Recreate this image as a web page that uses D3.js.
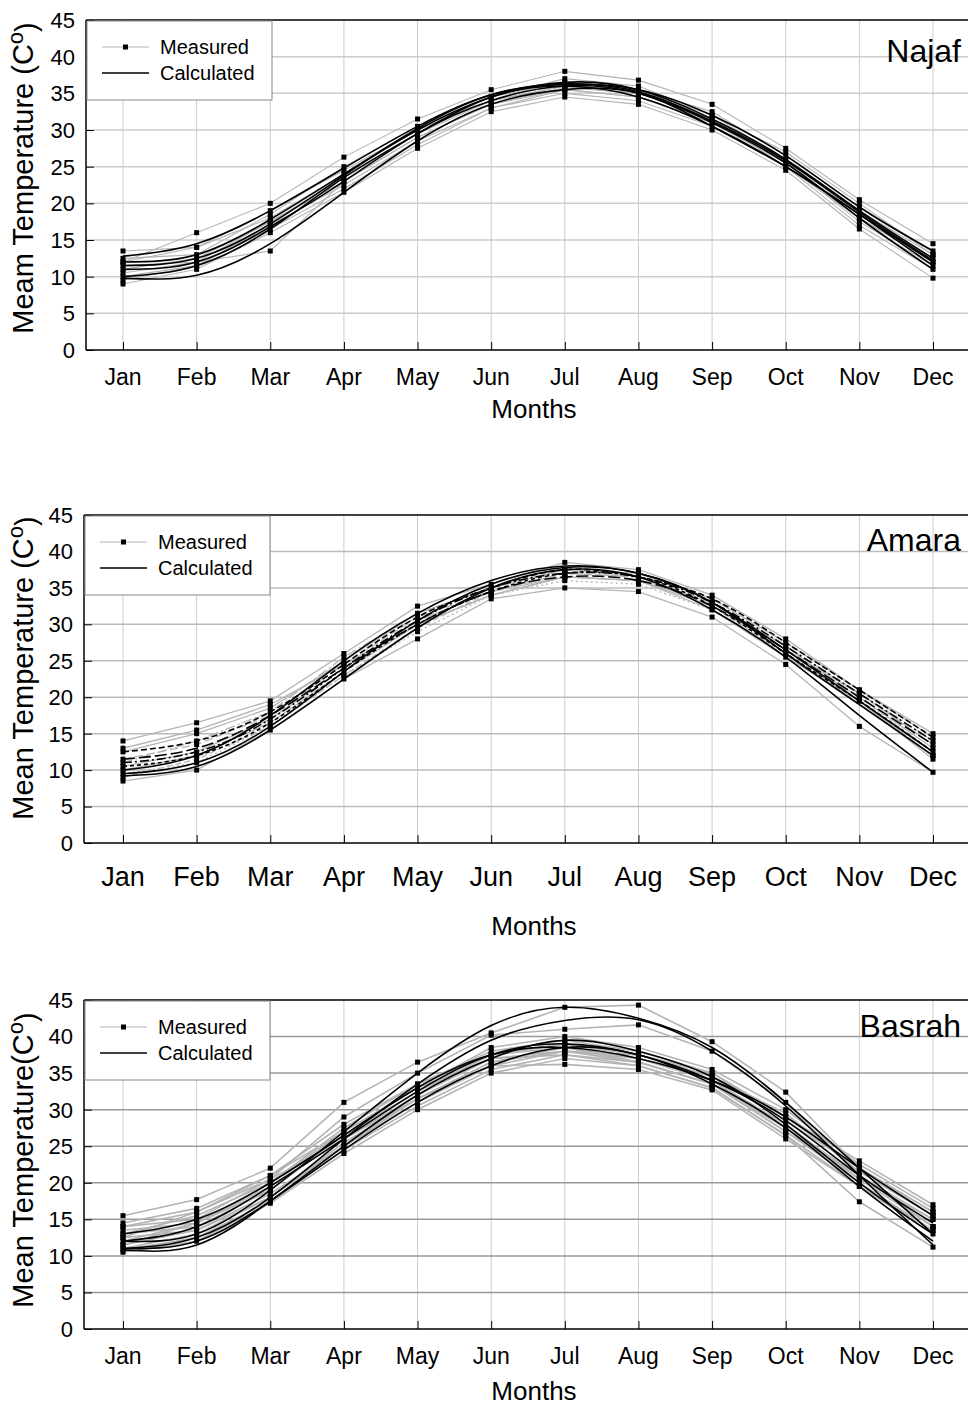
<!DOCTYPE html>
<html>
<head>
<meta charset="utf-8">
<script src="https://cdn.jsdelivr.net/npm/d3@7/dist/d3.min.js"></script>
<style>
  body { margin: 0; background: #fff; }
  svg { display: block; font-family: "Liberation Sans", Arial, sans-serif; }
</style>
</head>
<body>
<div id="chart"></div>
<script>
var months = ["Jan", "Feb", "Mar", "Apr", "May", "Jun", "Jul", "Aug", "Sep", "Oct", "Nov", "Dec"];
var yTicks = [0, 5, 10, 15, 20, 25, 30, 35, 40, 45];

// Najaf
var najafMeasured = [
    [13.5, 14, 18, 24, 30, 34, 36, 35.5, 32, 26, 19, 13],
    [12, 16, 20, 26.3, 31.5, 35.5, 38, 36.8, 33.5, 27.5, 20.5, 14.5],
    [11.5, 12, 13.5, 23, 29, 33.5, 35.5, 34.5, 31, 25.5, 18, 12],
    [10, 11.5, 17, 22.5, 28.5, 33, 35, 34, 30.5, 25, 17, 11],
    [9, 11, 16, 21.5, 27.5, 32.5, 34.5, 33.5, 30, 24.5, 16.5, 9.8],
    [12.5, 13, 18.5, 25, 30.5, 34.5, 36.5, 35.5, 32.5, 26.5, 19.5, 13.5],
    [11, 12.5, 17.5, 23.5, 29.5, 34, 36, 35, 31.5, 26, 18.5, 12.5],
    [9.5, 11.5, 16.5, 22, 28, 33, 35.5, 34.5, 31, 25.5, 17.5, 11.5],
    [12, 14, 19, 24.5, 30, 34.5, 37, 36, 32, 27, 20, 13],
    [10.5, 12, 17.5, 23, 29, 33.5, 35.8, 35, 31.5, 25, 18, 12]
];
var najafCalculated = [
    [9.8, 10.2, 14.5, 21.5, 28.5, 33.5, 35.5, 35, 30.5, 25, 18.5, 11.5],
    [12.8, 14.5, 19, 24.8, 30.5, 34.8, 36.2, 35.5, 32, 26.5, 19.5, 13.5],
    [11, 12, 16.8, 23, 29.5, 34, 36, 35, 31, 25.5, 18, 11],
    [12, 13, 17.8, 24, 30, 34.5, 36.5, 35.5, 31.5, 26, 19, 12.5],
    [10, 11.5, 16.5, 23.5, 29.5, 34.5, 36, 34.5, 30.5, 25, 18.5, 12],
    [11.5, 12.5, 17.2, 23.8, 30.2, 34.8, 36.3, 35.2, 31.2, 25.8, 18.8, 12.2]
];

// Amara
var amaraMeasured = [
    [14, 16.5, 19.5, 26, 32.5, 35.5, 38.5, 37.5, 34, 28, 21, 15],
    [12.5, 15, 18.5, 25, 31.5, 35, 37.5, 37, 33.5, 27.5, 21, 14.5],
    [11.5, 13.5, 17.5, 24.5, 31, 34.5, 37, 36.5, 33, 27, 20.5, 14],
    [10.5, 12.5, 17, 24, 30.5, 34.5, 36.5, 36, 32.5, 26.5, 20, 13],
    [9.5, 11, 16, 23, 29, 34, 36, 35.5, 32, 26, 20, 12.5],
    [8.5, 10, 15.5, 22.5, 28, 33.5, 35, 34.5, 31, 24.5, 16, 9.7],
    [11, 14, 18, 25.5, 31.5, 35, 37.5, 36.5, 33, 27, 19.5, 12],
    [10, 12, 16.5, 23.5, 30, 34, 36.5, 36, 32, 25.5, 19.5, 11.5],
    [13, 15.5, 19, 24.5, 30, 34, 36.5, 36, 33, 26.5, 20.5, 13.5],
    [9, 11.5, 16, 23, 29.5, 34.5, 37, 36.5, 32.5, 26, 19.5, 12]
];
var amaraCalculated = [
    [9.2, 10.5, 15.5, 22.5, 29.5, 35, 37.5, 36.5, 32, 25.5, 17.5, 9.7],
    [9.5, 11, 16, 23.5, 30.5, 35.5, 37.8, 37, 33, 26, 19, 12],
    [11, 12.5, 17, 24, 30.5, 35, 37, 36.5, 33, 27, 20.5, 14],
    [12.5, 14, 18, 24.5, 31, 35, 37.5, 36.5, 33.5, 27.5, 21, 14.5],
    [10, 12, 17.5, 25, 31.5, 36, 38, 37, 33, 26.5, 19.5, 12.5],
    [11.5, 13, 17.5, 24, 30, 34.5, 36.5, 36, 32.5, 26.5, 20, 13.5],
    [10.5, 12, 16.5, 23.5, 30, 34.5, 37, 36.5, 32.5, 26, 19.5, 12.5]
];

// Basrah
var basrahMeasured = [
    [15.5, 17.7, 22, 31, 36.5, 40.5, 44, 44.3, 39.3, 32.4, 22, 16],
    [14, 15, 20.5, 29, 35, 40.2, 41, 41.6, 38, 31, 21, 14],
    [13, 15.5, 20, 27.5, 33.5, 38, 39.5, 38, 35, 29, 23, 17],
    [12, 14.5, 19, 26.5, 32.5, 37.5, 39, 37.5, 34.5, 28.5, 22, 15.5],
    [11, 13, 18, 25.5, 31.5, 36.5, 38.5, 37, 34, 27.5, 21, 14],
    [10.5, 12, 17.2, 24, 30, 35, 37, 36, 33, 26.5, 17.4, 11.2],
    [12.5, 16, 21, 27, 33, 38.5, 40, 38.5, 35.5, 30, 22.5, 16.5],
    [11.5, 13.5, 18.5, 25, 31, 36, 36.2, 35.5, 32.7, 26, 19.5, 13],
    [13.5, 14.5, 19.5, 26, 32, 37, 38, 37, 34, 28, 20.5, 15],
    [14.5, 16.5, 21, 28, 33.5, 37.5, 39, 37.5, 34.5, 29.5, 21.5, 15.5],
    [10.8, 12.5, 17.5, 24.5, 30.5, 35.5, 37.5, 36.5, 33.5, 27, 20, 13.5],
    [12.5, 13.5, 18, 25, 31.5, 36, 38, 36.5, 33.5, 27.5, 20.5, 14],
    [13, 14, 19, 26.5, 32.5, 37.5, 38.5, 36.5, 33.5, 27, 21, 15],
    [11.5, 14.5, 20, 27, 33, 37, 37.5, 36, 33, 26.5, 19.5, 13.5],
    [14, 16, 20.5, 26, 31.5, 36.5, 38, 37.5, 35, 29, 22, 16]
];
var basrahCalculated = [
    [12, 13, 19, 27, 35, 41.5, 44, 42.5, 38.5, 31, 22, 13],
    [11, 12.5, 18, 26, 33.5, 39.5, 42.2, 42.3, 38, 30.5, 21, 11.5],
    [10.8, 11.5, 17.5, 25, 32, 37, 39.5, 38, 34.5, 28, 20, 13],
    [12, 14, 19.5, 26, 32.5, 37.5, 39, 37.5, 34, 28.5, 21, 14.5],
    [13, 15, 20, 26.5, 33, 37.5, 38.5, 37, 34, 29, 22, 15.5],
    [11, 12, 17.5, 24.5, 31, 36, 38.5, 37.5, 33.5, 27.5, 19.5, 12]
];

var width = 968, height = 1408;

var svg = d3.select("#chart").append("svg")
    .attr("width", width)
    .attr("height", height);

var panels = [
    { name: "Najaf", measured: najafMeasured, calculated: najafCalculated,
      left: 86, top: 20, bottom: 350, ylabel: ["Meam Temperature (C", ")"], ylabelY: 178,
      tickFont: 23, monthY: 385, titleY: 418, nameY: 62, hGrid: "#cccccc", measW: 1.1 },
    { name: "Amara", measured: amaraMeasured, calculated: amaraCalculated,
      left: 84, top: 515, bottom: 843, ylabel: ["Mean Temperature (C", ")"], ylabelY: 668,
      tickFont: 27, monthY: 886, titleY: 935, nameY: 551, hGrid: "#bbbbbb", measW: 1.3 },
    { name: "Basrah", measured: basrahMeasured, calculated: basrahCalculated,
      left: 84, top: 1000, bottom: 1329, ylabel: ["Mean Temperature(C", ")"], ylabelY: 1160,
      tickFont: 23, monthY: 1364, titleY: 1400, nameY: 1037, hGrid: "#999999", measW: 1.6 }
];

panels.forEach(function (p) {
    var step = (933 - 123) / 11;
    var x = d3.scaleLinear().domain([0, 11]).range([123, 933]);
    var y = d3.scaleLinear().domain([0, 45]).range([p.bottom, p.top]);
    var right = 933 + step / 2 + 4;

    var g = svg.append("g");

    // grid
    g.selectAll(".vgrid").data(months).enter().append("line")
        .attr("x1", function (d, i) { return x(i); })
        .attr("x2", function (d, i) { return x(i); })
        .attr("y1", p.top).attr("y2", p.bottom)
        .style("stroke", "#cccccc").style("stroke-width", 1);
    g.selectAll(".hgrid").data(yTicks.slice(1, -1)).enter().append("line")
        .attr("x1", p.left).attr("x2", right)
        .attr("y1", function (d) { return y(d); })
        .attr("y2", function (d) { return y(d); })
        .style("stroke", p.hGrid).style("stroke-width", 1.5);

    // y axis
    var yAxis = d3.axisRight(y).tickValues(yTicks).tickSize(8).tickFormat("");
    g.append("g").attr("transform", "translate(" + p.left + ",0)").call(yAxis)
        .call(function (a) { a.select(".domain").remove(); a.selectAll("line").style("stroke", "#000"); });
    g.selectAll(".ylab").data(yTicks).enter().append("text")
        .attr("x", p.left - 11)
        .attr("y", function (d) { return y(d); })
        .attr("dy", "0.36em")
        .attr("text-anchor", "end")
        .style("font-size", "22px")
        .text(function (d) { return d; });

    // x axis
    var xAxis = d3.axisTop(x).tickValues(d3.range(12)).tickSize(8).tickFormat("");
    g.append("g").attr("transform", "translate(0," + p.bottom + ")").call(xAxis)
        .call(function (a) { a.select(".domain").remove(); a.selectAll("line").style("stroke", "#000"); });
    g.selectAll(".xlab").data(months).enter().append("text")
        .attr("x", function (d, i) { return x(i); })
        .attr("y", p.monthY)
        .attr("text-anchor", "middle")
        .style("font-size", p.tickFont + "px")
        .text(function (d) { return d; });

    g.append("text")
        .attr("x", 534).attr("y", p.titleY)
        .attr("text-anchor", "middle")
        .style("font-size", "26px")
        .text("Months");

    var yl = g.append("text")
        .attr("transform", "translate(33," + p.ylabelY + ") rotate(-90)")
        .attr("text-anchor", "middle")
        .style("font-size", "29px");
    yl.append("tspan").text(p.ylabel[0]);
    yl.append("tspan").attr("dy", "-0.45em").style("font-size", "22px").text("o");
    yl.append("tspan").attr("dy", "0.45em").text(p.ylabel[1]);

    // series
    var straight = d3.line().x(function (d, i) { return x(i); }).y(function (d) { return y(d); });
    var smooth = d3.line().x(function (d, i) { return x(i); }).y(function (d) { return y(d); })
        .curve(d3.curveNatural);
    var measDash = [null, null, "8,4", null, "2,3", null, "10,3,2,3", null, null, "6,3", null, null];
    var calcDash = [null, null, "9,3,2,3", "6,3", null, "12,4", "4,3"];

    g.selectAll(".meas").data(p.measured).enter().append("path")
        .attr("d", straight)
        .style("fill", "none")
        .style("stroke", "#b4b4b4")
        .style("stroke-width", p.measW)
        .style("stroke-dasharray", function (d, i) { return p.name === "Amara" ? measDash[i] : null; });

    g.selectAll(".calc").data(p.calculated).enter().append("path")
        .attr("d", smooth)
        .style("fill", "none")
        .style("stroke", "#000")
        .style("stroke-width", 1.6)
        .style("stroke-dasharray", function (d, i) { return p.name === "Amara" ? calcDash[i] : null; });

    p.measured.forEach(function (s) {
        g.selectAll(null).data(s).enter().append("rect")
            .attr("x", function (d, i) { return x(i) - 2.5; })
            .attr("y", function (d) { return y(d) - 2.5; })
            .attr("width", 5).attr("height", 5)
            .style("fill", "#000");
    });

    // frame
    g.append("line").attr("x1", p.left).attr("x2", right).attr("y1", p.top).attr("y2", p.top)
        .style("stroke", "#000").style("stroke-width", 1.5);
    g.append("line").attr("x1", p.left).attr("x2", right).attr("y1", p.bottom).attr("y2", p.bottom)
        .style("stroke", "#000").style("stroke-width", 1.5);
    g.append("line").attr("x1", p.left).attr("x2", p.left).attr("y1", p.top).attr("y2", p.bottom)
        .style("stroke", "#000").style("stroke-width", 1.5);

    // station name
    g.append("text")
        .attr("x", 961).attr("y", p.nameY)
        .attr("text-anchor", "end")
        .style("font-size", "32px")
        .text(p.name);

    // legend
    var lg = g.append("g").attr("transform", "translate(" + (p.left + 1) + "," + (p.top + 1) + ")");
    lg.append("rect").attr("width", 185).attr("height", 79)
        .style("fill", "#fff").style("stroke", "#888").style("stroke-width", 1);
    lg.append("line").attr("x1", 15).attr("x2", 62).attr("y1", 26).attr("y2", 26)
        .style("stroke", "#b4b4b4").style("stroke-width", 1);
    lg.append("rect").attr("x", 36).attr("y", 23.5).attr("width", 5).attr("height", 5).style("fill", "#000");
    lg.append("line").attr("x1", 15).attr("x2", 62).attr("y1", 52).attr("y2", 52)
        .style("stroke", "#000").style("stroke-width", 1.6);
    lg.append("text").attr("x", 73).attr("y", 26).attr("dy", "0.36em")
        .style("font-size", "20px").text("Measured");
    lg.append("text").attr("x", 73).attr("y", 52).attr("dy", "0.36em")
        .style("font-size", "20px").text("Calculated");
});
</script>
</body>
</html>
